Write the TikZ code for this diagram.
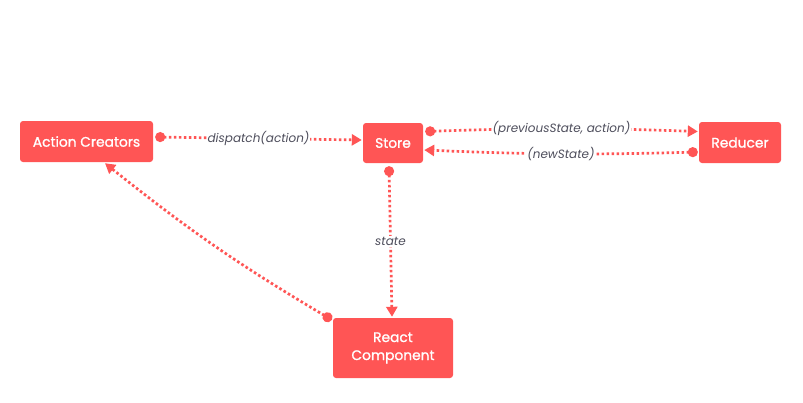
\documentclass[tikz,border=0pt]{standalone}
\usepackage{fontspec}
\setmainfont{Poppins}
\newfontfamily\boxfont{Poppins}[FakeBold=1.2]
\usetikzlibrary{arrows.meta}
\definecolor{redux}{HTML}{FF5555}
\definecolor{lbl}{HTML}{4E4E5C}
\begin{document}
\begin{tikzpicture}[x=1pt,y=-1pt,
  box/.style={fill=redux,rounded corners=3pt,text=white,font=\boxfont\fontsize{13.8}{18}\selectfont,align=center,inner sep=0pt},
  flow/.style={draw=redux,line width=2.7pt,dash pattern=on 2.6pt off 2.4pt,{Circle[length=10pt,width=10pt,fill=redux,sep=0pt]}-{Triangle[length=10pt,width=11pt,fill=redux]}},
  lab/.style={fill=white,text=lbl,font=\fontsize{12}{14}\selectfont\itshape,inner sep=1pt}]
\useasboundingbox (0,0) rectangle (803,402);
\node[box,minimum width=133pt,minimum height=41pt] (ac) at (86.5,141.5) {Action Creators};
\node[box,minimum width=60pt,minimum height=40pt] (store) at (393,143) {Store};
\node[box,minimum width=82pt,minimum height=41pt] (red) at (740,142.5) {Reducer};
\node[box,minimum width=120pt,minimum height=60pt] (rc) at (393,348) {React\\Component};
\draw[flow] ([shift={(2,-4.5)}]ac.east) -- node[lab]{dispatch(action)} ([shift={(-1,-3)}]store.west);
\draw[flow] ([shift={(2,-11.5)}]store.east) to[bend left=2] node[lab]{(previousState, action)} ([shift={(-1,-11)}]red.west);
\draw[flow] ([shift={(-1,9.5)}]red.west) to[bend left=2] node[lab]{(newState)} ([shift={(1,7)}]store.east);
\draw[flow] ([shift={(-4,3)}]store.south) -- node[lab]{state} ([shift={(-1,-1)}]rc.north);
\draw[flow] ([shift={(-1,2)}]rc.north west) to[bend left=4] ([shift={(18.5,1)}]ac.south);
\end{tikzpicture}
\end{document}
